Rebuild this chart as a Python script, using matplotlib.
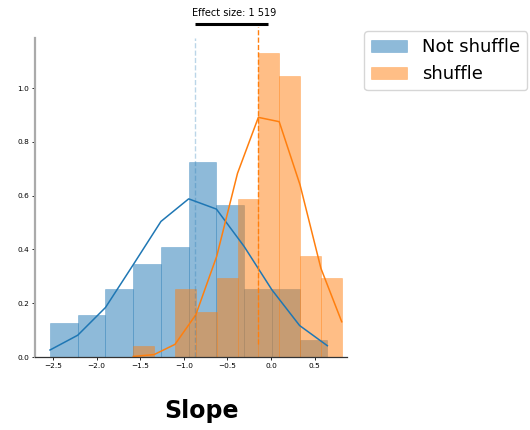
import numpy as np
import matplotlib
matplotlib.use("Agg")
import matplotlib.pyplot as plt

# ---- data ----
blue_label = "Not shuffle"
orange_label = "shuffle"
blue_edges = [-2.534, -2.216, -1.898, -1.580, -1.262, -0.944, -0.626, -0.308, 0.010, 0.328, 0.646]
blue_counts = [4, 5, 8, 11, 13, 23, 18, 8, 8, 2]
orange_edges = [-1.579, -1.340, -1.101, -0.862, -0.623, -0.384, -0.145, 0.094, 0.333, 0.572, 0.811]
orange_counts = [1, 0, 6, 4, 7, 14, 27, 25, 9, 7]
blue_line = [0.026, 0.081, 0.184, 0.343, 0.504, 0.588, 0.550, 0.411, 0.250, 0.117, 0.042]
orange_line = [0.002, 0.009, 0.047, 0.157, 0.374, 0.683, 0.891, 0.875, 0.640, 0.330, 0.131]
blue_mean = -0.868
orange_mean = -0.153
effect_bar = [-0.868, -0.04]
effect_text = "Effect size: 1 519"
xticks = [-2.5, -2.0, -1.5, -1.0, -0.5, 0.0, 0.5]
yticks = [0.0, 0.2, 0.4, 0.6, 0.8, 1.0]
xlabel = "Slope"

BLUE = "#1f77b4"
ORANGE = "#ff7f0e"

fig = plt.figure(figsize=(5.3, 4.3), dpi=100)
ax = fig.add_axes([35/530, 1-357/430, 311.7/530, 318.7/430])

def draw_hist(edges, counts, color, label):
    edges = np.asarray(edges)
    counts = np.asarray(counts, dtype=float)
    widths = np.diff(edges)
    dens = counts / (counts.sum() * widths)
    ax.bar(edges[:-1], dens, width=widths, align="edge", color=color,
           alpha=0.5, edgecolor=color, linewidth=0.4, label=label)

draw_hist(blue_edges, blue_counts, BLUE, blue_label)
draw_hist(orange_edges, orange_counts, ORANGE, orange_label)
ax.plot(blue_edges, blue_line, color=BLUE, lw=1.1)
ax.plot(orange_edges, orange_line, color=ORANGE, lw=1.1)

ax.plot([blue_mean, blue_mean], [0, 1.185], ls="--", color=BLUE, alpha=0.3, lw=1, clip_on=False)
ax.plot([orange_mean, orange_mean], [0.05, 1.228], ls="--", color=ORANGE, lw=1, clip_on=False)
ax.plot(effect_bar, [1.237, 1.237], color="black", lw=2.2, clip_on=False, solid_capstyle="butt")
ax.text(np.mean(effect_bar) + 0.03, 1.262, effect_text, ha="center", va="bottom", fontsize=7)

ax.set_xlim(-2.706, 0.868)
ax.set_ylim(0, 1.185)
ax.set_xticks(xticks)
ax.set_xticklabels(["\u22122.5", "\u22122.0", "\u22121.5", "\u22121.0", "\u22120.5", "0.0", "0.5"])
ax.set_yticks(yticks)
ax.set_yticklabels([f"{v:.1f}" for v in yticks])
ax.tick_params(labelsize=5.3, length=2, width=0.6, pad=2)
for s in ["top", "right"]:
    ax.spines[s].set_visible(False)
ax.spines["left"].set_color("#aaaaaa")
ax.spines["left"].set_linewidth(1.6)
ax.spines["bottom"].set_color("#333333")
ax.spines["bottom"].set_linewidth(0.9)

fig.text(202/530, 1-418/430, xlabel, ha="center", va="baseline", fontsize=17,
         fontweight="bold", family=["DejaVu Sans"])

leg = fig.legend(loc="upper left", bbox_to_anchor=(364/530, 1-31/430), borderaxespad=0,
                 fontsize=13, frameon=True, handlelength=2.0)
leg.get_frame().set_edgecolor("#cccccc")

fig.savefig("out.png", dpi=100)
